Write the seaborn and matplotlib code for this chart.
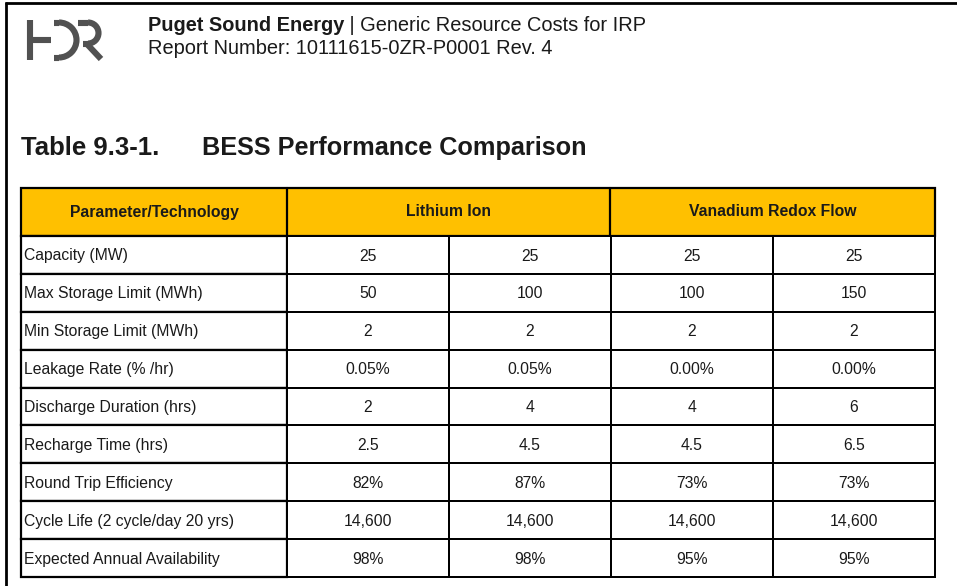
import numpy as np
import pandas as pd
import seaborn as sns
import matplotlib
matplotlib.use("Agg")
from matplotlib import pyplot as plt
from matplotlib.colors import ListedColormap
from matplotlib.patches import Rectangle, Arc

# table content
params = ["Capacity (MW)", "Max Storage Limit (MWh)", "Min Storage Limit (MWh)",
          "Leakage Rate (% /hr)", "Discharge Duration (hrs)", "Recharge Time (hrs)",
          "Round Trip Efficiency", "Cycle Life (2 cycle/day 20 yrs)",
          "Expected Annual Availability"]
lithium_a = ["25", "50", "2", "0.05%", "2", "2.5", "82%", "14,600", "98%"]
lithium_b = ["25", "100", "2", "0.05%", "4", "4.5", "87%", "14,600", "98%"]
vanadium_a = ["25", "100", "2", "0.00%", "4", "4.5", "73%", "14,600", "95%"]
vanadium_b = ["25", "150", "2", "0.00%", "6", "6.5", "73%", "14,600", "95%"]
header_left = "Parameter/Technology"
tech_groups = ["Lithium Ion", "Vanadium Redox Flow"]

sns.set_theme(style="white")
plt.rcParams["font.family"] = ["Liberation Sans", "DejaVu Sans"]

W, H = 957, 586
fig = plt.figure(figsize=(W / 100, H / 100), dpi=100)
fig.patch.set_facecolor("white")

bg = fig.add_axes([0, 0, 1, 1])
bg.set_xlim(0, W)
bg.set_ylim(H, 0)
bg.axis("off")

# page frame (top and left edge of the screenshot)
bg.plot([5, W], [2.5, 2.5], color="black", lw=2, solid_capstyle="butt")
bg.plot([6, 6], [2, H], color="black", lw=2, solid_capstyle="butt")

# logo
logo = "#515151"
lw_logo = 4.4
bg.plot([29.5, 29.5], [20, 60], color=logo, lw=lw_logo, solid_capstyle="butt")
bg.plot([29, 51], [40, 40], color=logo, lw=lw_logo, solid_capstyle="butt")
bg.plot([54, 59], [22.5, 22.5], color=logo, lw=lw_logo, solid_capstyle="butt")
bg.plot([54, 59], [57.5, 57.5], color=logo, lw=lw_logo, solid_capstyle="butt")
bg.add_patch(Arc((59, 40), 35, 35, theta1=-90, theta2=90, color=logo, lw=lw_logo))
bg.plot([78, 88], [22.5, 22.5], color=logo, lw=lw_logo, solid_capstyle="butt")
bg.add_patch(Arc((88, 33), 21, 21, theta1=-90, theta2=90, color=logo, lw=lw_logo))
bg.plot([88, 83], [43.5, 43.5], color=logo, lw=lw_logo, solid_capstyle="butt")
bg.plot([86, 101], [43, 59], color=logo, lw=lw_logo, solid_capstyle="butt")

# page header
txt = "#1a1a1a"
t1 = bg.text(148, 31, "Puget Sound Energy", fontsize=14.4, fontweight="bold",
             color=txt, va="baseline", ha="left")
fig.canvas.draw()
r = fig.canvas.get_renderer()
bb = t1.get_window_extent(r)
bg.text(bb.x1, 31, " | Generic Resource Costs for IRP", fontsize=14.4,
        color=txt, va="baseline", ha="left")
bg.text(148, 54, "Report Number: 10111615-0ZR-P0001 Rev. 4", fontsize=14.4,
        color=txt, va="baseline", ha="left")

# table title
bg.text(21, 155, "Table 9.3-1.", fontsize=18.5, fontweight="bold", color=txt, va="baseline")
bg.text(202, 155, "BESS Performance Comparison", fontsize=18.2, fontweight="bold",
        color=txt, va="baseline")

# table geometry
left, c1, mid, right = 21, 287, 610, 935
top, head_bot, bot = 188, 236, 577
row_h = (bot - head_bot) / len(params)
lw_grid = 1.6

# header row
bg.add_patch(Rectangle((left, top), right - left, head_bot - top,
                       facecolor="#ffc000", edgecolor="black", lw=lw_grid))
for x in [c1, mid]:
    bg.plot([x, x], [top, head_bot], color="black", lw=lw_grid)
hy = (top + head_bot) / 2
bg.text((left + c1) / 2, hy, header_left, fontsize=11.3, fontweight="bold",
        color=txt, ha="center", va="center")
bg.text((c1 + mid) / 2, hy, tech_groups[0], fontsize=11.3, fontweight="bold",
        color=txt, ha="center", va="center")
bg.text((mid + right) / 2, hy, tech_groups[1], fontsize=11.3, fontweight="bold",
        color=txt, ha="center", va="center")

# parameter column
for i, p in enumerate(params):
    y0 = head_bot + i * row_h
    bg.add_patch(Rectangle((left, y0), c1 - left, row_h, facecolor="white",
                           edgecolor="black", lw=lw_grid))
    bg.text(left + 3, y0 + row_h / 2 + 1, p, fontsize=11.3, color=txt,
            ha="left", va="center")

# value cells through a seaborn heatmap
vals = pd.DataFrame({"li_a": lithium_a, "li_b": lithium_b,
                     "va_a": vanadium_a, "va_b": vanadium_b})
hx = fig.add_axes([c1 / W, (H - bot) / H, (right - c1) / W, (bot - head_bot) / H])
sns.heatmap(np.zeros(vals.shape), ax=hx, cmap=ListedColormap(["white"]), cbar=False,
            annot=vals.values, fmt="", linewidths=1.2, linecolor="black",
            xticklabels=False, yticklabels=False,
            annot_kws=dict(fontsize=11.3, color=txt))
hx.collections[0].set_clip_on(False)
for t in hx.texts:
    x, y = t.get_position()
    t.set_position((x, y + 0.03))

fig.savefig("out.png", dpi=100, facecolor="white")
